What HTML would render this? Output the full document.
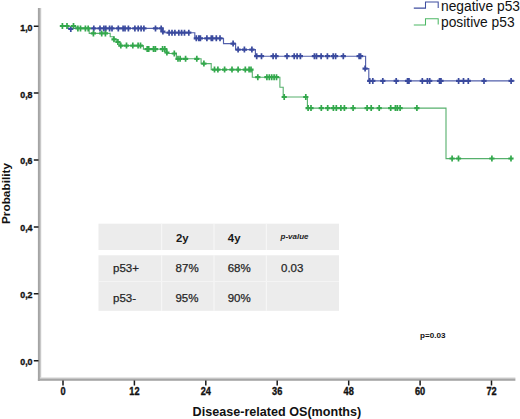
<!DOCTYPE html>
<html><head><meta charset="utf-8"><style>
html,body{margin:0;padding:0;background:#fff;}
body{width:520px;height:419px;overflow:hidden;}
svg{display:block;font-family:"Liberation Sans",sans-serif;}
.tk{font-size:10.2px;font-weight:bold;fill:#111;stroke:#111;stroke-width:0.35px;}
.xl{font-size:12.6px;font-weight:bold;fill:#111;}
.yl{font-size:11.8px;font-weight:bold;fill:#111;}
.th{font-size:11.4px;font-weight:bold;fill:#1a1a1a;}
.pv{font-size:8px;font-weight:bold;font-style:italic;fill:#222;}
.td{font-size:11.5px;fill:#262626;stroke:#262626;stroke-width:0.25px;}
.pp{font-size:8.1px;font-weight:bold;fill:#111;}
.lg{font-size:13.8px;fill:#111;}
</style></head><body>
<svg width="520" height="419" viewBox="0 0 520 419">
<rect width="520" height="419" fill="#fff"/>
<rect x="39.9" y="8" width="1.3" height="369.6" fill="#c8c8c8"/>
<rect x="39.9" y="377.6" width="475.5" height="1.1" fill="#c4c4c4"/>
<rect x="37.9" y="8" width="2" height="372.9" fill="#a4a4a4"/>
<rect x="37.9" y="378.7" width="477.5" height="2.1" fill="#a6a6a6"/>
<path d="M33.8,26.2H38.5M33.8,93.1H38.5M33.8,160.0H38.5M33.8,226.9H38.5M33.8,293.8H38.5M33.8,360.8H38.5M63.0,380.6V385.4M134.4,380.6V385.4M205.8,380.6V385.4M277.2,380.6V385.4M348.7,380.6V385.4M420.1,380.6V385.4M491.5,380.6V385.4" stroke="#1a1a1a" stroke-width="1.5" fill="none"/>
<text transform="translate(32.5,30.6) scale(0.95,1)" text-anchor="end" class="tk" style="font-size:9.3px">1,0</text>
<text transform="translate(32.5,97.5) scale(0.95,1)" text-anchor="end" class="tk" style="font-size:9.3px">0,8</text>
<text transform="translate(32.5,164.4) scale(0.95,1)" text-anchor="end" class="tk" style="font-size:9.3px">0,6</text>
<text transform="translate(32.5,231.3) scale(0.95,1)" text-anchor="end" class="tk" style="font-size:9.3px">0,4</text>
<text transform="translate(32.5,298.2) scale(0.95,1)" text-anchor="end" class="tk" style="font-size:9.3px">0,2</text>
<text transform="translate(32.5,365.2) scale(0.95,1)" text-anchor="end" class="tk" style="font-size:9.3px">0,0</text>
<text transform="translate(63.0,394.6) scale(0.9,1)" text-anchor="middle" class="tk">0</text>
<text transform="translate(134.4,394.6) scale(0.9,1)" text-anchor="middle" class="tk">12</text>
<text transform="translate(205.8,394.6) scale(0.9,1)" text-anchor="middle" class="tk">24</text>
<text transform="translate(277.2,394.6) scale(0.9,1)" text-anchor="middle" class="tk">36</text>
<text transform="translate(348.7,394.6) scale(0.9,1)" text-anchor="middle" class="tk">48</text>
<text transform="translate(420.1,394.6) scale(0.9,1)" text-anchor="middle" class="tk">60</text>
<text transform="translate(491.5,394.6) scale(0.9,1)" text-anchor="middle" class="tk">72</text>
<text x="192.6" y="415.8" class="xl">Disease-related OS(months)</text>
<text transform="translate(9.6,224) rotate(-90)" x="0" y="0" class="yl">Probability</text>
<rect x="98.5" y="223.7" width="240.5" height="26.3" fill="#ececec"/>
<rect x="98.5" y="255.3" width="240.5" height="55.5" fill="#ececec"/>
<rect x="161.1" y="223.7" width="1" height="26.3" fill="#f8f8f8"/>
<rect x="161.1" y="255.3" width="1" height="55.5" fill="#f8f8f8"/>
<rect x="213.5" y="223.7" width="1" height="26.3" fill="#f8f8f8"/>
<rect x="213.5" y="255.3" width="1" height="55.5" fill="#f8f8f8"/>
<rect x="265.8" y="223.7" width="1" height="26.3" fill="#f8f8f8"/>
<rect x="265.8" y="255.3" width="1" height="55.5" fill="#f8f8f8"/>
<rect x="98.5" y="281" width="240.5" height="1" fill="#f4f4f4"/>
<text x="175.9" y="242.1" class="th">2y</text>
<text x="227.8" y="242.1" class="th">4y</text>
<text x="280.5" y="238.7" class="pv">p-value</text>
<text x="113" y="271.8" class="td">p53+</text>
<text x="175.6" y="271.8" class="td">87%</text>
<text x="227.7" y="271.8" class="td">68%</text>
<text x="281" y="271.8" class="td">0.03</text>
<text x="113" y="301.5" class="td">p53-</text>
<text x="175.4" y="301.5" class="td">95%</text>
<text x="227.7" y="301.5" class="td">90%</text>
<text x="420" y="338.4" class="pp">p=0.03</text>
<path d="M63,26.2 H68 V28.4 H162.4 V32.7 H194.8 V38.3 H223.5 V43.6 H235.6 V49.6 H255.4 V56.2 H365.6 V68.6 H368.8 V80.9 H514.6" stroke="#5360ac" stroke-width="1.15" fill="none"/>
<path d="M68.2,29.0h5.2M91.2,28.4h5.2M97.4,28.4h5.2M101.3,28.4h5.2M103.2,28.4h5.2M107.0,28.4h5.2M109.4,28.4h5.2M115.7,28.4h5.2M120.5,28.4h5.2M122.4,28.4h5.2M125.8,28.4h5.2M132.3,28.4h5.2M135.6,28.4h5.2M138.5,28.4h5.2M141.3,28.4h5.2M152.9,28.4h5.2M158.6,28.4h5.2M160.3,31.5h5.2M166.5,32.7h5.2M169.4,32.7h5.2M172.3,32.7h5.2M176.2,32.7h5.2M179.0,32.7h5.2M181.9,32.7h5.2M186.2,32.7h5.2M193.7,38.3h5.2M196.2,38.3h5.2M197.8,38.3h5.2M204.3,38.3h5.2M208.7,38.3h5.2M209.9,38.3h5.2M213.7,38.3h5.2M217.4,38.3h5.2M230.5,43.6h5.2M235.5,49.6h5.2M241.8,49.6h5.2M249.3,49.6h5.2M254.1,56.2h5.2M258.9,56.2h5.2M270.5,56.2h5.2M273.4,56.2h5.2M284.4,56.2h5.2M291.6,56.2h5.2M294.5,56.2h5.2M297.8,56.2h5.2M311.8,56.2h5.2M313.9,56.2h5.2M318.5,56.2h5.2M324.8,56.2h5.2M330.6,56.2h5.2M333.0,56.2h5.2M340.7,56.2h5.2M356.5,56.2h5.2M358.0,56.2h5.2M362.5,68.6h5.2M367.1,80.9h5.2M370.2,80.9h5.2M380.2,80.9h5.2M393.6,80.9h5.2M404.9,80.9h5.2M406.4,80.9h5.2M419.7,80.9h5.2M424.8,80.9h5.2M427.1,80.9h5.2M436.9,80.9h5.2M438.4,80.9h5.2M456.0,80.9h5.2M460.9,80.9h5.2M465.7,80.9h5.2M481.4,80.9h5.2M508.5,80.9h5.2" stroke="#3a4a9e" stroke-width="2.2" fill="none"/><path d="M70.8,26.0v6.0M93.8,25.4v6.0M100.0,25.4v6.0M103.9,25.4v6.0M105.8,25.4v6.0M109.6,25.4v6.0M112.0,25.4v6.0M118.3,25.4v6.0M123.1,25.4v6.0M125.0,25.4v6.0M128.4,25.4v6.0M134.9,25.4v6.0M138.2,25.4v6.0M141.1,25.4v6.0M143.9,25.4v6.0M155.5,25.4v6.0M161.2,25.4v6.0M162.9,28.5v6.0M169.1,29.7v6.0M172.0,29.7v6.0M174.9,29.7v6.0M178.8,29.7v6.0M181.6,29.7v6.0M184.5,29.7v6.0M188.8,29.7v6.0M196.3,35.3v6.0M198.8,35.3v6.0M200.4,35.3v6.0M206.9,35.3v6.0M211.3,35.3v6.0M212.5,35.3v6.0M216.3,35.3v6.0M220.0,35.3v6.0M233.1,40.6v6.0M238.1,46.6v6.0M244.4,46.6v6.0M251.9,46.6v6.0M256.7,53.2v6.0M261.5,53.2v6.0M273.1,53.2v6.0M276.0,53.2v6.0M287.0,53.2v6.0M294.2,53.2v6.0M297.1,53.2v6.0M300.4,53.2v6.0M314.4,53.2v6.0M316.5,53.2v6.0M321.1,53.2v6.0M327.4,53.2v6.0M333.2,53.2v6.0M335.6,53.2v6.0M343.3,53.2v6.0M359.1,53.2v6.0M360.6,53.2v6.0M365.1,65.6v6.0M369.7,77.9v6.0M372.8,77.9v6.0M382.8,77.9v6.0M396.2,77.9v6.0M407.5,77.9v6.0M409.0,77.9v6.0M422.3,77.9v6.0M427.4,77.9v6.0M429.7,77.9v6.0M439.5,77.9v6.0M441.0,77.9v6.0M458.6,77.9v6.0M463.5,77.9v6.0M468.3,77.9v6.0M484.0,77.9v6.0M511.1,77.9v6.0" stroke="#3a4a9e" stroke-width="1.7" fill="none"/>
<path d="M63,26.2 H76 V28.4 H89.2 V33.4 H110.2 V36.8 H113.4 V39.3 H116.8 V42 H119.8 V45.6 H143.4 V49.1 H166.3 V53.5 H176.4 V58.8 H201.1 V63.6 H211.2 V69.6 H252.3 V77.2 H279.9 V87.3 H283.2 V97 H307.4 V108.1 H446 V158.6 H513" stroke="#56b06c" stroke-width="1.1" fill="none"/>
<path d="M59.8,26.0h5.2M64.4,26.0h5.2M70.9,26.0h5.2M75.3,28.4h5.2M77.9,28.4h5.2M82.8,28.4h5.2M85.6,28.4h5.2M90.8,33.4h5.2M99.1,33.4h5.2M102.8,33.4h5.2M111.4,39.3h5.2M115.3,42.0h5.2M118.2,45.6h5.2M123.9,45.6h5.2M130.2,45.6h5.2M135.5,45.6h5.2M137.9,45.6h5.2M144.6,49.1h5.2M146.1,49.1h5.2M150.9,49.1h5.2M152.8,49.1h5.2M160.0,49.1h5.2M162.2,49.1h5.2M164.3,52.5h5.2M171.7,53.5h5.2M175.4,58.8h5.2M177.5,58.8h5.2M183.0,58.8h5.2M194.2,58.8h5.2M201.3,63.6h5.2M211.9,69.6h5.2M215.3,69.6h5.2M222.0,69.6h5.2M229.4,69.6h5.2M235.5,69.6h5.2M242.7,69.6h5.2M246.5,69.6h5.2M248.4,69.6h5.2M255.2,77.2h5.2M264.3,77.2h5.2M266.7,77.2h5.2M269.1,77.2h5.2M271.5,77.2h5.2M273.9,77.2h5.2M281.6,97.0h5.2M303.2,97.0h5.2M305.5,108.1h5.2M308.4,108.1h5.2M318.7,108.1h5.2M325.1,108.1h5.2M330.8,108.1h5.2M333.7,108.1h5.2M338.3,108.1h5.2M341.8,108.1h5.2M350.5,108.1h5.2M364.5,108.1h5.2M368.6,108.1h5.2M376.6,108.1h5.2M388.1,108.1h5.2M392.8,108.1h5.2M394.8,108.1h5.2M397.5,108.1h5.2M414.3,108.1h5.2M449.5,158.5h5.2M455.9,158.5h5.2M489.3,158.5h5.2M508.4,158.5h5.2" stroke="#33a84c" stroke-width="2.2" fill="none"/><path d="M62.4,23.0v6.0M67.0,23.0v6.0M73.5,23.0v6.0M77.9,25.4v6.0M80.5,25.4v6.0M85.4,25.4v6.0M88.2,25.4v6.0M93.4,30.4v6.0M101.7,30.4v6.0M105.4,30.4v6.0M114.0,36.3v6.0M117.9,39.0v6.0M120.8,42.6v6.0M126.5,42.6v6.0M132.8,42.6v6.0M138.1,42.6v6.0M140.5,42.6v6.0M147.2,46.1v6.0M148.7,46.1v6.0M153.5,46.1v6.0M155.4,46.1v6.0M162.6,46.1v6.0M164.8,46.1v6.0M166.9,49.5v6.0M174.3,50.5v6.0M178.0,55.8v6.0M180.1,55.8v6.0M185.6,55.8v6.0M196.8,55.8v6.0M203.9,60.6v6.0M214.5,66.6v6.0M217.9,66.6v6.0M224.6,66.6v6.0M232.0,66.6v6.0M238.1,66.6v6.0M245.3,66.6v6.0M249.1,66.6v6.0M251.0,66.6v6.0M257.8,74.2v6.0M266.9,74.2v6.0M269.3,74.2v6.0M271.7,74.2v6.0M274.1,74.2v6.0M276.5,74.2v6.0M284.2,94.0v6.0M305.8,94.0v6.0M308.1,105.1v6.0M311.0,105.1v6.0M321.3,105.1v6.0M327.7,105.1v6.0M333.4,105.1v6.0M336.3,105.1v6.0M340.9,105.1v6.0M344.4,105.1v6.0M353.1,105.1v6.0M367.1,105.1v6.0M371.2,105.1v6.0M379.2,105.1v6.0M390.7,105.1v6.0M395.4,105.1v6.0M397.4,105.1v6.0M400.1,105.1v6.0M416.9,105.1v6.0M452.1,155.5v6.0M458.5,155.5v6.0M491.9,155.5v6.0M511.0,155.5v6.0" stroke="#33a84c" stroke-width="1.7" fill="none"/>
<path d="M413.8,8.1H425.5V1.9H438.2V7.9" stroke="#3f4ea0" stroke-width="1.05" fill="none"/>
<path d="M413.8,25H425.5V18.8H438.2V24.6" stroke="#4db865" stroke-width="1.05" fill="none"/>
<text x="441.0" y="11.25" class="lg">negative p53</text>
<text x="441.0" y="27.1" class="lg">positive p53</text>
</svg>
</body></html>
